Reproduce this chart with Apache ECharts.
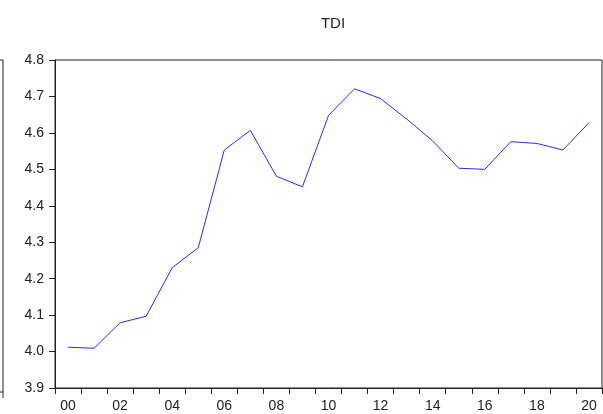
<!DOCTYPE html>
<html>
<head>
<meta charset="utf-8">
<script src="https://cdn.jsdelivr.net/npm/echarts@6/dist/echarts.min.js"></script>
<style>
  html, body { margin: 0; padding: 0; background: #fff; }
  #chart { width: 603px; height: 414px; }
</style>
</head>
<body>
<div id="chart"></div>
<script>
// years 2000..2020, shown as two digits
var years = ['00', '01', '02', '03', '04', '05', '06', '07', '08', '09', '10',
  '11', '12', '13', '14', '15', '16', '17', '18', '19', '20']
var tdi = [4.012, 4.009, 4.079, 4.097, 4.230, 4.285, 4.553, 4.607, 4.481, 4.452, 4.648,
  4.721, 4.694, 4.638, 4.578, 4.503, 4.500, 4.576, 4.571, 4.553, 4.628]
var yMin = 3.9
var yMax = 4.8
var yStep = 0.1

var chart = echarts.init(document.getElementById('chart'))
var font = 'Liberation Sans, Arial, sans-serif'

chart.setOption({
  animation: false,
  backgroundColor: '#fff',
  title: {
    text: 'TDI',
    left: 328,
    textAlign: 'center',
    top: 11,
    textStyle: { fontFamily: font, fontSize: 15, fontWeight: 'normal', color: '#222' }
  },
  grid: {
    left: 55,
    right: 1,
    top: 60,
    bottom: 26,
    show: true,
    borderColor: '#222',
    borderWidth: 1,
    backgroundColor: 'transparent'
  },
  xAxis: {
    type: 'category',
    data: years,
    boundaryGap: true,
    axisLine: { lineStyle: { color: '#222', width: 1 } },
    axisTick: { show: true, interval: 0, length: 6, lineStyle: { color: '#222' } },
    axisLabel: { interval: 1, margin: 11, fontFamily: font, fontSize: 14, color: '#222' },
    splitLine: { show: false }
  },
  yAxis: {
    type: 'value',
    min: yMin,
    max: yMax,
    interval: yStep,
    axisLine: { show: true, lineStyle: { color: '#222', width: 1 } },
    axisTick: { show: true, length: 6, lineStyle: { color: '#222' } },
    axisLabel: {
      margin: 11,
      fontFamily: font,
      fontSize: 14,
      color: '#222',
      formatter: function (v) { return v.toFixed(1) }
    },
    splitLine: { show: false }
  },
  // edge of the neighbouring panel, cut off at the left
  graphic: [{
    type: 'polyline',
    shape: { points: [[0, 60], [3, 60], [3, 392], [0, 392]] },
    style: { stroke: '#222', lineWidth: 1, fill: null },
    silent: true
  }, {
    type: 'line',
    shape: { x1: 3, y1: 392, x2: 3, y2: 398 },
    style: { stroke: '#222', lineWidth: 1 },
    silent: true
  }],
  series: [{
    name: 'TDI',
    type: 'line',
    data: tdi,
    symbol: 'none',
    smooth: false,
    lineStyle: { color: '#2a2aff', width: 1 }
  }]
})
</script>
</body>
</html>
